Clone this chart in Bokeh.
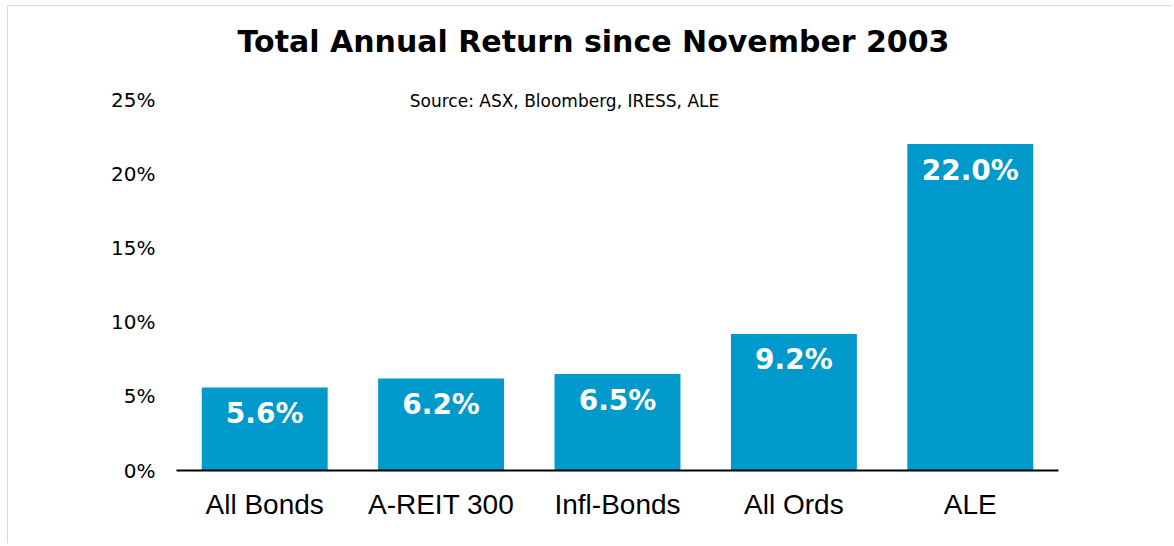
from bokeh.plotting import figure
from bokeh.models import (ColumnDataSource, FactorRange, Range1d, LabelSet, Label,
                          FixedTicker, CustomJSTickFormatter)
from bokeh.core.properties import value
from bokeh.embed import file_html
from bokeh.resources import INLINE

# ---- data ----
categories = ["All Bonds", "A-REIT 300", "Infl-Bonds", "All Ords", "ALE"]
returns = [5.6, 6.2, 6.5, 9.2, 22.0]
bar_labels = ["5.6%", "6.2%", "6.5%", "9.2%", "22.0%"]
y_ticks = [0, 5, 10, 15, 20, 25]
title_text = "Total Annual Return since November 2003"
source_text = "Source: ASX, Bloomberg, IRESS, ALE"

src = ColumnDataSource(dict(cat=categories, val=returns, lab=bar_labels))

W, H = 1164, 538
p = figure(x_range=FactorRange(*categories, range_padding=0),
           y_range=Range1d(0, 30.19),
           width=W, height=H, output_backend="svg", toolbar_location=None,
           min_border_left=168, min_border_right=114,
           min_border_top=16, min_border_bottom=74)

p.vbar(x="cat", top="val", width=0.714, source=src,
       fill_color="#0099CC", line_color=None)

p.add_layout(LabelSet(x="cat", y="val", text="lab", source=src,
                      text_align="center", text_baseline="middle", y_offset=-26,
                      text_color="white", text_font=value("DejaVu Sans"),
                      text_font_style="bold", text_font_size="28px"))

p.xgrid.visible = False
p.ygrid.visible = False
p.outline_line_color = None

# y axis
p.yaxis.ticker = FixedTicker(ticks=y_ticks)
p.yaxis.formatter = CustomJSTickFormatter(code="return tick + '%';")
p.yaxis.axis_line_color = None
p.yaxis.major_tick_line_color = None
p.yaxis.minor_tick_line_color = None
p.yaxis.major_label_standoff = 15
p.yaxis.major_label_text_font = "DejaVu Sans"
p.yaxis.major_label_text_font_size = "20px"
p.yaxis.major_label_text_color = "black"

# x axis
p.xaxis.axis_line_color = "black"
p.xaxis.axis_line_width = 2
p.xaxis.major_tick_line_color = None
p.xaxis.minor_tick_line_color = None
p.xaxis.major_label_standoff = 12
p.xaxis.major_label_text_font = "Liberation Sans"
p.xaxis.major_label_text_font_size = "28px"
p.xaxis.major_label_text_color = "black"

# title and source (screen units, relative to the plot frame)
p.add_layout(Label(x=417, y=429, x_units="screen", y_units="screen", text=title_text,
                   text_align="center", text_baseline="middle",
                   text_font="DejaVu Sans", text_font_style="bold",
                   text_font_size="30px", text_color="black"))
p.add_layout(Label(x=388, y=370, x_units="screen", y_units="screen", text=source_text,
                   text_align="center", text_baseline="middle",
                   text_font="DejaVu Sans", text_font_size="17px",
                   text_color="black"))

p.margin = (5, 0, 0, 7)
p.styles = {"border-top": "1px solid #d9d9d9", "border-left": "1px solid #d9d9d9"}

open("out.html", "w").write(file_html(p, INLINE))
